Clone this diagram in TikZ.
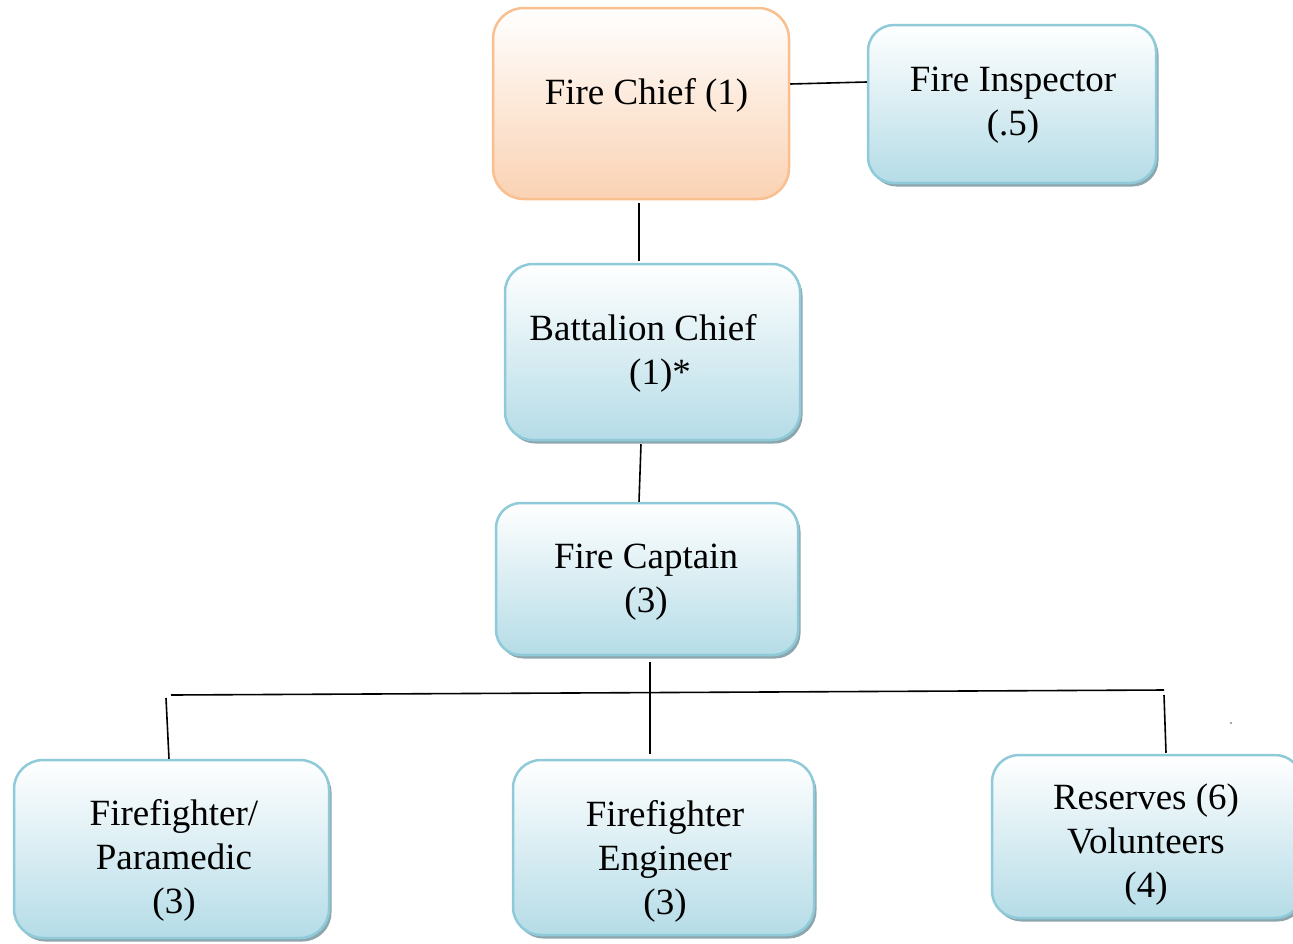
\documentclass[tikz,border=0pt]{standalone}
\usepackage{fontspec}
\setmainfont[Ligatures=NoCommon]{Liberation Serif}
\usetikzlibrary{shadows}
\definecolor{bluedge}{HTML}{8FCAD9}
\definecolor{bluefill}{HTML}{B5DCE7}
\definecolor{orangedge}{HTML}{F9BF8F}
\definecolor{orangefill}{HTML}{FAD2B3}
\definecolor{shadowc}{HTML}{8DA6AD}
\begin{document}
\begin{tikzpicture}[x=1pt,y=-1pt,
  box/.style={rectangle, line width=2.5pt, inner sep=0pt},
  bluebox/.style={box, draw=bluedge, top color=white, bottom color=bluefill,
    drop shadow={shadow xshift=2.5pt, shadow yshift=-3.5pt, fill=shadowc, opacity=1}},
  orangebox/.style={box, draw=orangedge, top color=white, bottom color=orangefill},
  txt/.style={align=center, anchor=base, inner sep=0pt, font=\fontsize{37}{44}\selectfont},
  link/.style={line width=1.6pt, black}]
\useasboundingbox (0,0) rectangle (1293,943);
\clip (0,0) rectangle (1293,943);

% boxes
\node[orangebox, minimum width=296pt, minimum height=191pt, rounded corners=31pt] (fc) at (641,103.5) {};
\node[bluebox, minimum width=288pt, minimum height=158pt, rounded corners=26pt] (fi) at (1012,104) {};
\node[bluebox, minimum width=295pt, minimum height=176pt, rounded corners=28pt] (bc) at (652.5,352) {};
\node[bluebox, minimum width=302pt, minimum height=152pt, rounded corners=25pt] (cap) at (647,579) {};
\node[bluebox, minimum width=315pt, minimum height=178pt, rounded corners=29pt] (pm) at (171.5,849) {};
\node[bluebox, minimum width=301pt, minimum height=175pt, rounded corners=28pt] (eng) at (663.5,847.5) {};
\node[bluebox, minimum width=310pt, minimum height=163pt, rounded corners=27pt] (res) at (1147,836.5) {};

% labels (anchored at the baseline of the last line)
\node[txt] (fc-t) at (646.5,104) {Fire Chief (1)};
\node[txt] (fi-t) at (1013,135) {Fire Inspector\\(.5)};
\node[txt] (bc-t) at (643,384) {Battalion Chief\\\hspace*{34pt}(1)*};
\node[txt] (cap-t) at (646,612) {Fire Captain\\(3)};
\node[txt] (pm-t) at (174,913) {Firefighter/\\Paramedic\\(3)};
\node[txt] (eng-t) at (665,914) {Firefighter\\Engineer\\(3)};
\node[txt] (res-t) at (1146,897) {Reserves (6)\\Volunteers\\(4)};

% connectors
\draw[link] ([yshift=19.5pt]fc.east) -- ([yshift=22pt]fi.west);
\draw[link] ([xshift=-2pt,yshift=-3pt]fc.south) -- ([xshift=-13.5pt,yshift=2pt]bc.north);
\draw[link] ([xshift=-11.5pt,yshift=-3pt]bc.south) -- ([xshift=-8pt]cap.north);
\draw[link] ([xshift=3pt,yshift=-6pt]cap.south) -- ([xshift=-13.5pt,yshift=5pt]eng.north);

\coordinate (busL) at (171,695);
\coordinate (busR) at (1164,690);
\coordinate (dropL) at (166,698);
\coordinate (dropR) at (1164,695);
\draw[link] (busL) -- (busR);
\draw[link] (dropL) -- ([xshift=-2.5pt]pm.north);
\draw[link] (dropR) -- ([xshift=19pt,yshift=1pt]res.north);

\fill[black!70] (1231,723) circle (0.8pt);
\end{tikzpicture}
\end{document}
